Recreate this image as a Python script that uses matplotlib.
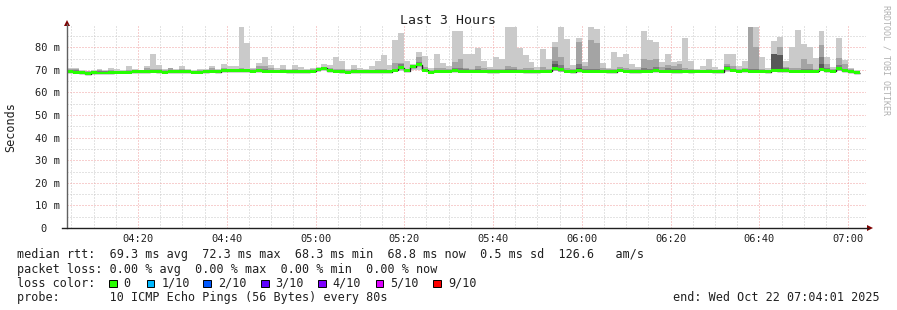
import numpy as np
import matplotlib
matplotlib.use("Agg")
import matplotlib.pyplot as plt
from matplotlib.lines import Line2D
from matplotlib.patches import Rectangle, Polygon

# 80 s steps starting 04:04 (minutes since midnight)
step_start = 244.0
step_len = 80 / 60

rtt_max = [70.8, 70.6, 69.8, 69.7, 69.9, 70.3, 70.0, 71.0, 70.2, 70.0,
           71.5, 70.2, 70.1, 71.5, 76.8, 72.0, 70.3, 71.0, 70.3, 71.5,
           70.5, 70.0, 70.2, 70.4, 71.5, 70.4, 72.8, 71.5, 71.5, 88.8,
           81.7, 71.0, 73.2, 75.9, 72.2, 70.7, 72.0, 70.4, 72.0, 71.3,
           70.4, 70.7, 71.2, 72.7, 72.2, 75.5, 73.7, 70.4, 72.0, 71.0,
           70.4, 71.5, 73.7, 76.5, 72.0, 83.4, 86.3, 74.1, 72.5, 77.9,
           76.0, 70.7, 76.8, 73.2, 71.8, 87.0, 87.3, 77.0, 77.0, 79.6,
           74.1, 71.2, 75.5, 74.9, 88.9, 88.9, 79.6, 76.5, 73.4, 71.3,
           79.0, 75.0, 82.2, 88.9, 83.6, 72.0, 84.0, 73.4, 88.9, 88.0,
           73.1, 71.0, 78.1, 75.5, 77.0, 72.8, 71.3, 87.0, 83.0, 82.5,
           73.4, 77.0, 73.4, 73.7, 84.3, 74.1, 70.3, 71.5, 74.7, 71.2,
           70.4, 77.0, 77.0, 71.6, 74.0, 88.9, 88.9, 75.5, 71.0, 82.9,
           84.4, 73.7, 80.3, 87.8, 81.4, 79.9, 75.2, 87.4, 75.5, 71.2,
           84.3, 74.4, 71.0, 70.0]
rtt_p9 = [70.5, 70.3, 69.5, 69.4, 69.5, 69.9, 69.6, 69.8, 69.7, 69.7,
          70.0, 69.8, 69.8, 71.0, 70.3, 70.2, 69.9, 70.9, 69.9, 70.3,
          70.1, 69.6, 69.8, 70.0, 70.6, 70.0, 70.8, 70.4, 70.4, 70.6,
          70.4, 70.2, 71.9, 71.7, 70.9, 70.1, 70.3, 70.0, 70.2, 70.0,
          70.0, 70.2, 70.8, 71.4, 70.6, 70.5, 70.3, 70.0, 70.2, 70.0,
          70.0, 70.1, 70.3, 70.3, 70.1, 73.2, 73.0, 70.5, 71.9, 75.8,
          71.3, 70.0, 70.6, 70.8, 70.4, 73.5, 74.6, 71.0, 70.5, 71.5,
          70.8, 70.3, 70.2, 70.5, 71.7, 71.3, 70.4, 70.9, 70.6, 70.0,
          71.2, 70.5, 80.3, 75.9, 71.0, 70.2, 82.5, 71.5, 83.0, 82.0,
          71.0, 70.2, 70.5, 71.2, 70.7, 70.5, 70.2, 74.7, 74.4, 74.7,
          71.3, 72.1, 71.9, 72.4, 70.6, 70.2, 69.9, 70.1, 70.2, 70.1,
          70.0, 72.8, 71.5, 70.4, 71.0, 88.9, 79.9, 70.3, 70.0, 77.2,
          80.3, 71.3, 70.8, 71.0, 74.9, 72.5, 70.3, 80.8, 72.4, 70.3,
          75.2, 72.5, 70.2, 69.7]
rtt_p8 = [69.9, 69.8, 69.2, 69.0, 69.2, 69.5, 69.3, 69.4, 69.3, 69.3,
          69.5, 69.4, 69.4, 69.8, 69.7, 69.7, 69.5, 70.0, 69.5, 69.8,
          69.6, 69.2, 69.4, 69.6, 69.9, 69.6, 70.0, 69.8, 69.9, 70.0,
          69.9, 69.8, 70.5, 70.4, 70.1, 69.7, 69.8, 69.6, 69.7, 69.6,
          69.5, 69.7, 70.4, 70.9, 70.0, 69.9, 69.8, 69.5, 69.6, 69.5,
          69.5, 69.6, 69.7, 69.7, 69.6, 70.5, 72.5, 70.0, 71.6, 73.6,
          70.3, 69.5, 69.9, 69.9, 69.8, 70.6, 71.0, 70.2, 69.8, 70.2,
          69.9, 69.7, 69.7, 69.8, 70.2, 70.2, 69.8, 69.9, 69.7, 69.5,
          69.9, 69.8, 74.0, 72.2, 69.9, 69.7, 72.5, 70.3, 70.4, 70.2,
          70.0, 69.7, 69.8, 70.4, 69.9, 69.8, 69.7, 70.6, 70.4, 71.1,
          70.1, 70.9, 70.5, 70.3, 69.9, 69.7, 69.6, 69.7, 69.7, 69.7,
          69.6, 71.5, 70.3, 69.8, 70.2, 70.5, 70.3, 69.7, 69.6, 77.2,
          76.7, 70.6, 70.0, 70.1, 70.5, 70.2, 69.8, 75.9, 70.6, 69.8,
          72.0, 70.3, 69.7, 69.4]
rtt_p7 = [69.5, 69.4, 69.0, 68.8, 69.0, 68.9, 68.9, 69.0, 69.1, 69.2,
          69.3, 69.3, 69.4, 69.5, 69.5, 69.4, 69.2, 69.5, 69.3, 69.4,
          69.4, 69.1, 69.2, 69.4, 69.5, 69.4, 69.7, 69.7, 69.7, 69.8,
          69.7, 69.6, 69.8, 69.7, 69.6, 69.5, 69.5, 69.4, 69.4, 69.3,
          69.3, 69.5, 70.4, 70.7, 69.8, 69.6, 69.4, 69.2, 69.4, 69.3,
          69.3, 69.4, 69.4, 69.3, 69.3, 70.1, 71.8, 69.9, 71.5, 72.8,
          70.0, 69.1, 69.5, 69.5, 69.5, 69.8, 69.7, 69.6, 69.5, 69.6,
          69.5, 69.4, 69.4, 69.5, 69.6, 69.6, 69.5, 69.4, 69.3, 69.3,
          69.5, 69.5, 72.4, 70.8, 69.5, 69.4, 70.8, 69.7, 69.7, 69.6,
          69.5, 69.4, 69.4, 70.1, 69.5, 69.4, 69.3, 69.7, 69.6, 69.8,
          69.5, 69.6, 69.5, 69.5, 69.5, 69.4, 69.5, 69.6, 69.5, 69.4,
          69.4, 71.0, 70.0, 69.5, 69.7, 69.6, 69.5, 69.5, 69.4, 77.2,
          76.7, 70.0, 69.5, 69.5, 69.6, 69.5, 69.5, 72.5, 69.8, 69.5,
          71.0, 69.8, 69.4, 69.2]
rtt_median = [69.1, 69.0, 68.8, 68.3, 68.8, 68.6, 68.6, 68.7, 68.9, 69.0,
              69.0, 69.1, 69.2, 69.2, 69.3, 69.2, 69.0, 69.2, 69.1, 69.2,
              69.2, 68.9, 69.0, 69.2, 69.3, 69.2, 69.5, 69.5, 69.5, 69.6,
              69.5, 69.4, 69.5, 69.4, 69.3, 69.3, 69.3, 69.2, 69.2, 69.1,
              69.1, 69.3, 70.3, 70.6, 69.6, 69.4, 69.2, 69.0, 69.2, 69.1,
              69.1, 69.2, 69.2, 69.1, 69.1, 69.9, 70.9, 69.7, 71.4, 72.3,
              69.8, 68.9, 69.3, 69.3, 69.3, 69.5, 69.4, 69.4, 69.3, 69.4,
              69.3, 69.2, 69.2, 69.3, 69.4, 69.4, 69.3, 69.2, 69.1, 69.1,
              69.3, 69.3, 70.5, 70.0, 69.3, 69.2, 69.5, 69.4, 69.4, 69.3,
              69.3, 69.2, 69.2, 69.9, 69.3, 69.2, 69.1, 69.4, 69.3, 69.5,
              69.3, 69.3, 69.2, 69.2, 69.3, 69.2, 69.3, 69.4, 69.3, 69.2,
              69.2, 70.4, 69.8, 69.3, 69.5, 69.3, 69.3, 69.3, 69.2, 69.8,
              69.7, 69.7, 69.3, 69.3, 69.4, 69.3, 69.3, 70.3, 69.6, 69.3,
              70.5, 69.6, 69.2, 68.8]
rtt_min = [68.9, 68.8, 68.4, 68.2, 68.4, 68.3, 68.3, 68.4, 68.5, 68.6,
           68.6, 68.7, 68.8, 68.8, 68.9, 68.8, 68.6, 68.8, 68.7, 68.8,
           68.8, 68.5, 68.6, 68.8, 68.9, 68.8, 69.0, 69.0, 69.0, 69.0,
           69.0, 68.9, 69.0, 68.9, 68.9, 68.9, 68.9, 68.8, 68.7, 68.6,
           68.6, 68.8, 69.0, 69.4, 69.0, 68.9, 68.7, 68.6, 68.7, 68.6,
           68.6, 68.7, 68.7, 68.6, 68.6, 69.0, 69.5, 69.0, 69.8, 70.0,
           69.0, 68.5, 68.8, 68.8, 68.8, 69.0, 68.9, 68.9, 68.8, 68.9,
           68.8, 68.7, 68.7, 68.8, 68.9, 68.9, 68.8, 68.7, 68.5, 68.6,
           68.8, 68.8, 69.3, 69.0, 68.6, 68.8, 68.9, 68.9, 68.9, 68.8,
           68.8, 68.7, 68.6, 69.1, 68.8, 68.7, 68.6, 68.9, 68.8, 69.0,
           68.8, 68.8, 68.7, 68.7, 68.8, 68.7, 68.8, 68.9, 68.8, 68.6,
           68.7, 69.2, 69.0, 68.8, 68.9, 68.8, 68.8, 68.8, 68.8, 69.2,
           69.1, 69.1, 68.8, 68.8, 68.9, 68.8, 68.8, 69.4, 69.0, 68.8,
           69.4, 69.0, 68.7, 68.5]

time_ticks = [260, 280, 300, 320, 340, 360, 380, 400, 420]
time_labels = ["04:20", "04:40", "05:00", "05:20", "05:40", "06:00", "06:20", "06:40", "07:00"]
y_ticks = [0, 10, 20, 30, 40, 50, 60, 70, 80]
y_labels = ["0  ", "10 m", "20 m", "30 m", "40 m", "50 m", "60 m", "70 m", "80 m"]

loss_labels = ["0", "1/10", "2/10", "3/10", "4/10", "5/10", "9/10"]
loss_colors = ["#26ff00", "#00b8ff", "#0059ff", "#5e00ff", "#7e00ff", "#dd00ff", "#ff0000"]

stats_line = "median rtt:  69.3 ms avg  72.3 ms max  68.3 ms min  68.8 ms now  0.5 ms sd  126.6   am/s"
loss_line = "packet loss: 0.00 % avg  0.00 % max  0.00 % min  0.00 % now"
probe_line = "probe:       10 ICMP Echo Pings (56 Bytes) every 80s"
end_line = "end: Wed Oct 22 07:04:01 2025"

W, H = 897, 310
MONO = "DejaVu Sans Mono"

fig = plt.figure(figsize=(W / 100, H / 100), dpi=100)
fig.patch.set_facecolor("white")
ax = fig.add_axes([67 / W, (H - 228) / H, 799 / W, 202 / H])

n = len(rtt_median)
edges = step_start + np.arange(n + 1) * step_len
med = np.array(rtt_median)

# smoke layers, lightest (outer pings) to darkest
ax.stairs(rtt_max, edges, baseline=rtt_min, fill=True, color="#cacaca", lw=0, antialiased=False, zorder=2)
ax.stairs(rtt_p9, edges, baseline=med, fill=True, color="#a4a4a4", lw=0, antialiased=False, zorder=3)
ax.stairs(rtt_p8, edges, baseline=med, fill=True, color="#7e7e7e", lw=0, antialiased=False, zorder=4)
ax.stairs(rtt_p7, edges, baseline=med, fill=True, color="#585858", lw=0, antialiased=False, zorder=5)
ax.stairs(med, edges, baseline=None, color="#202020", lw=1.0, zorder=6)
ax.stairs(med + 0.65, edges, baseline=med - 0.65, fill=True, color=loss_colors[0], lw=0,
          antialiased=False, zorder=7)

ax.set_xlim(244 + 1 / 60, 424 + 1 / 60)
ax.set_ylim(0, 89.4)

ax.set_xticks(time_ticks)
ax.set_xticklabels(time_labels)
ax.set_xticks(np.arange(245, 425, 5), minor=True)
ax.set_yticks(y_ticks)
ax.set_yticklabels(y_labels)
ax.set_yticks(np.arange(5, 90, 10), minor=True)

ax.grid(which="major", color="#f0a0a0", lw=0.72, linestyle=(0, (1, 2)), zorder=1)
ax.grid(which="minor", color="#c8c8c8", lw=0.72, linestyle=(0, (1, 2)), zorder=1)
ax.set_axisbelow(True)
ax.tick_params(which="both", length=0)
ax.tick_params(axis="y", pad=5)
ax.tick_params(axis="x", pad=4)
for lab in ax.get_xticklabels() + ax.get_yticklabels():
    lab.set_fontfamily(MONO)
    lab.set_fontsize(7.5)
    lab.set_color("#202020")
for s in ax.spines.values():
    s.set_visible(False)
ax.set_facecolor("white")


def px(x, y):
    return x / W, (H - y) / H


# axes with arrows
fig.add_artist(Line2D([67 / W, 67 / W], [px(0, 228)[1], px(0, 24)[1]], color="#606060", lw=1))
fig.add_artist(Line2D([62 / W, 868 / W], [px(0, 228)[1]] * 2, color="#202020", lw=1))
fig.add_artist(Polygon([px(64, 26), px(70, 26), px(67, 20)], closed=True, color="#7f0000", lw=0))
fig.add_artist(Polygon([px(867, 225), px(867, 231), px(873, 228)], closed=True, color="#7f0000", lw=0))

fig.text(448 / W, (H - 24) / H, "Last 3 Hours", ha="center", va="baseline",
         family=MONO, fontsize=9.5, color="#202020")
fig.text(11 / W, (H - 127) / H, "Seconds", rotation=90, ha="center", va="center",
         family=MONO, fontsize=8.5, color="#202020")
fig.text(886 / W, (H - 5) / H, "RRDTOOL / TOBI OETIKER", rotation=270, ha="center", va="top",
         family=MONO, fontsize=6, color="#b0b0b0")

rows_y = [258.3, 272.5, 286.7, 300.9]
fig.text(16.7 / W, (H - rows_y[0]) / H, stats_line, family=MONO, fontsize=8.5, va="baseline", color="#202020")
fig.text(16.7 / W, (H - rows_y[1]) / H, loss_line, family=MONO, fontsize=8.5, va="baseline", color="#202020")
fig.text(16.7 / W, (H - rows_y[2]) / H, "loss color:", family=MONO, fontsize=8.5, va="baseline", color="#202020")
fig.text(16.7 / W, (H - rows_y[3]) / H, probe_line, family=MONO, fontsize=8.5, va="baseline", color="#202020")
fig.text(880 / W, (H - rows_y[3]) / H, end_line, family=MONO, fontsize=8.5, va="baseline", ha="right",
         color="#202020")

box_x = [109, 146.7, 203.3, 261, 318.3, 375.7, 433.3]
for bx, lab, col in zip(box_x, loss_labels, loss_colors):
    fig.add_artist(Rectangle(px(bx, 287), 7.5 / W, 7.5 / H, facecolor=col, edgecolor="black", lw=0.7))
    fig.text((bx + 14.5) / W, (H - rows_y[2]) / H, lab, family=MONO, fontsize=8.5, va="baseline",
             color="#202020")

fig.savefig("out.png", dpi=100, facecolor="white")
